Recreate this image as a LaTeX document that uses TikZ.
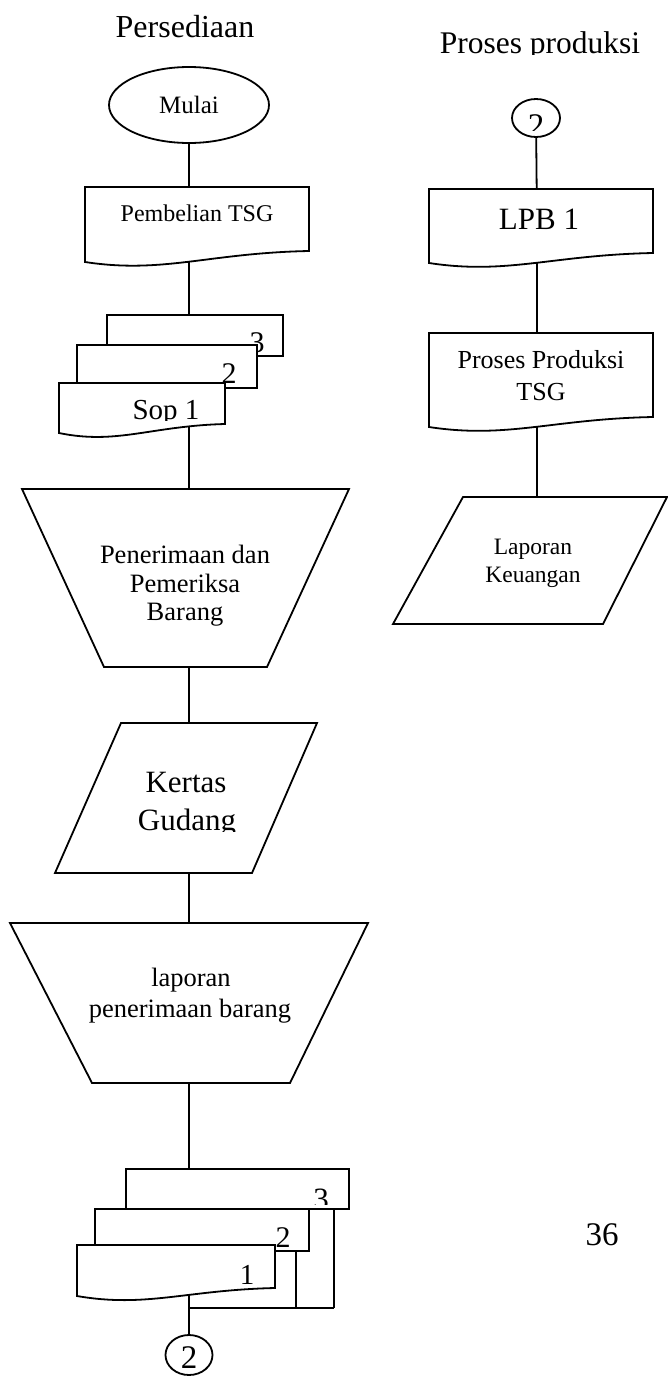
\documentclass[tikz,border=0pt]{standalone}
\usepackage{fontspec}
\setmainfont{Liberation Serif}
\usetikzlibrary{shapes.geometric}
\pgfdeclarelayer{bg}
\pgfsetlayers{bg,main}
\newcommand\fsz[2]{\fontsize{#1}{#2}\selectfont}
% document symbol: xl xr ytop ybottom(right) drop(left)
\newcommand\docshape[5]{%
  \draw[shp] (#1,#3) -- (#2,#3) -- (#2,#4)
    .. controls ({#2-0.45*(#2-#1)},{#4+2}) and ({#1+0.35*(#2-#1)},{#4+#5+12}) .. (#1,{#4+#5}) -- cycle;}
\begin{document}
\begin{tikzpicture}[x=1pt,y=-1pt,
  shp/.style={draw=black, fill=white, line width=1.8pt},
  conn/.style={draw=black, line width=1.8pt},
  txt/.style={inner sep=0pt, anchor=base},
  circ/.style={shp, ellipse, inner sep=0pt}]
\useasboundingbox (0,0) rectangle (668,1376);

% ---------- titles ----------
\node[txt, font=\fsz{32}{36}] (tpers) at (185,37) {Persediaan};
\begin{scope}
  \clip (400,0) rectangle (668,54);
  \node[txt, font=\fsz{31.5}{36}] (tprod) at (540,53) {Proses produksi};
\end{scope}

% ---------- left column ----------
\node[circ, minimum width=160pt, minimum height=76pt, font=\fsz{25}{30}] (mulai) at (189,105) {Mulai};

\docshape{85}{309}{187}{251}{11}
\node[txt, font=\fsz{24}{29}] (pemb) at (197,221) {Pembelian TSG};

% stacked documents (top)
\draw[shp] (107,315) rectangle (283,356);
\node[txt, font=\fsz{30}{32}] (s3) at (257,352) {3};
\draw[shp] (77,345) rectangle (257,388);
\node[txt, font=\fsz{30}{32}] (s2) at (229,383) {2};
\docshape{59}{225}{383}{424}{9}
\begin{scope}
  \clip (59,383) rectangle (225,420);
  \node[txt, font=\fsz{29}{32}] (s1) at (166,419) {Sop 1};
\end{scope}

% trapezium 1
\draw[shp] (22,489) -- (349,489) -- (267,667) -- (104,667) -- cycle;
\node[txt, font=\fsz{26.5}{29}] (tr1a) at (185,563) {Penerimaan dan};
\node[txt, font=\fsz{26.5}{29}] (tr1b) at (185,592) {Pemeriksa};
\node[txt, font=\fsz{26.5}{29}] (tr1c) at (185,620) {Barang};

% parallelogram Kertas Gudang
\draw[shp] (121,723) -- (317,723) -- (252,873) -- (55,873) -- cycle;
\node[txt, font=\fsz{31}{38}] (kga) at (186,792) {Kertas};
\begin{scope}
  \clip (100,800) rectangle (280,831);
  \node[txt, font=\fsz{31}{38}] (kgb) at (187,830) {Gudang};
\end{scope}

% trapezium 2
\draw[shp] (10,923) -- (368,923) -- (290,1083) -- (92,1083) -- cycle;
\node[txt, font=\fsz{26.5}{31}] (tr2a) at (191,986) {laporan};
\node[txt, font=\fsz{26.5}{31}] (tr2b) at (190,1017) {penerimaan barang};

% stacked documents (bottom)
\draw[shp] (126,1169) rectangle (349,1209);
\begin{scope}
  \clip (126,1169) rectangle (349,1204);
  \node[txt, font=\fsz{31}{32}] (b3) at (321,1209) {3};
\end{scope}
\draw[shp] (95,1209) rectangle (309,1251);
\node[txt, font=\fsz{30}{32}] (b2) at (283,1247) {2};
\docshape{77}{275}{1245}{1288}{8}
\node[txt, font=\fsz{29}{32}] (b1) at (247,1284) {1};

\node[circ, minimum width=47pt, minimum height=40pt] (c2b) at (189,1355) {};
\node[txt, font=\fsz{33}{36}] (c2bt) at (189,1368) {2};

% ---------- right column ----------
\node[circ, minimum width=48pt, minimum height=38pt] (c2t) at (536,118) {};
\begin{scope}
  \clip (510,100) rectangle (562,130);
  \node[txt, font=\fsz{33}{34}] (c2tt) at (536,136) {2};
\end{scope}

\docshape{429}{653}{189}{253}{10}
\node[txt, font=\fsz{31}{36}] (lpb) at (539,229) {LPB 1};

\docshape{429}{653}{333}{417}{10}
\node[txt, font=\fsz{26}{32}] (pra) at (541,368) {Proses Produksi};
\node[txt, font=\fsz{26}{32}] (prb) at (541,400) {TSG};

\draw[shp] (463,497) -- (667,497) -- (603,624) -- (393,624) -- cycle;
\node[txt, font=\fsz{23.5}{28}] (lka) at (533,554) {Laporan};
\node[txt, font=\fsz{23.5}{28}] (lkb) at (533,582) {Keuangan};

\node[txt, font=\fsz{33}{36}] (pg) at (602,1245) {36};

% ---------- connectors (behind the white-filled shapes) ----------
\coordinate (pembC) at (189,220);
\coordinate (stkT) at (189,335);
\coordinate (stkB) at (189,405);
\coordinate (tr1C) at (189,580);
\coordinate (kgC) at (189,800);
\coordinate (tr2C) at (189,1000);
\coordinate (bst3) at (189,1190);
\coordinate (bst1) at (189,1270);
\coordinate (jA) at (189,1308);
\coordinate (d2in) at (296,1230);
\coordinate (jB) at (296,1308);
\coordinate (d3in) at (334,1190);
\coordinate (jC) at (334,1308);
\coordinate (lpbC) at (537,220);
\coordinate (prC) at (537,370);
\coordinate (lkC) at (537,560);
\begin{pgfonlayer}{bg}
  \draw[conn] (mulai) -- (pembC);
  \draw[conn] (pembC) -- (stkT);
  \draw[conn] (stkB) -- (tr1C);
  \draw[conn] (tr1C) -- (kgC);
  \draw[conn] (kgC) -- (tr2C);
  \draw[conn] (tr2C) -- (bst3);
  \draw[conn] (bst1) -- (c2b);
  \draw[conn] (d2in) -- (jB);
  \draw[conn] (d3in) -- (jC);
  \draw[conn] (jA) -- (jC);
  \draw[conn] (c2t) -- (lpbC);
  \draw[conn] (lpbC) -- (prC);
  \draw[conn] (prC) -- (lkC);
\end{pgfonlayer}
\end{tikzpicture}
\end{document}
